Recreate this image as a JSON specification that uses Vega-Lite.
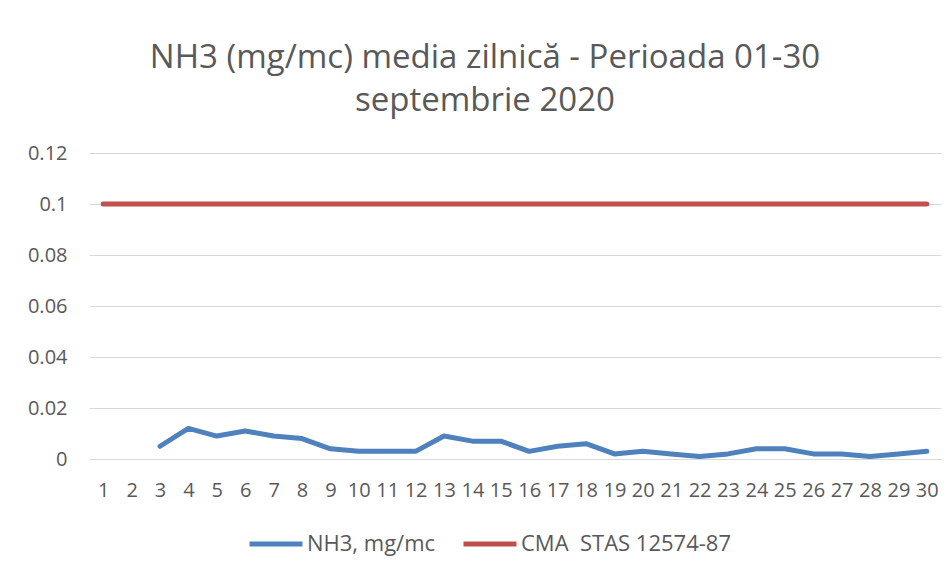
{
  "$schema": "https://vega.github.io/schema/vega-lite/v6.json",
  "width": 852,
  "height": 306,
  "autosize": {"type": "none"},
  "padding": {"left": 89, "top": 153, "right": 9, "bottom": 115},
  "background": "white",
  "title": {
    "text": ["NH3 (mg/mc) media zilnică - Perioada 01-30", "septembrie 2020"],
    "anchor": "middle",
    "frame": "group",
    "dx": -30,
    "offset": 25,
    "font": "Open Sans",
    "fontSize": 33,
    "fontWeight": "normal",
    "color": "#595959",
    "lineHeight": 43
  },
  "data": {
    "values": [
      {"day": 1, "series": "CMA\u00a0 STAS 12574-87", "value": 0.1},
      {"day": 2, "series": "CMA\u00a0 STAS 12574-87", "value": 0.1},
      {"day": 3, "series": "CMA\u00a0 STAS 12574-87", "value": 0.1},
      {"day": 4, "series": "CMA\u00a0 STAS 12574-87", "value": 0.1},
      {"day": 5, "series": "CMA\u00a0 STAS 12574-87", "value": 0.1},
      {"day": 6, "series": "CMA\u00a0 STAS 12574-87", "value": 0.1},
      {"day": 7, "series": "CMA\u00a0 STAS 12574-87", "value": 0.1},
      {"day": 8, "series": "CMA\u00a0 STAS 12574-87", "value": 0.1},
      {"day": 9, "series": "CMA\u00a0 STAS 12574-87", "value": 0.1},
      {"day": 10, "series": "CMA\u00a0 STAS 12574-87", "value": 0.1},
      {"day": 11, "series": "CMA\u00a0 STAS 12574-87", "value": 0.1},
      {"day": 12, "series": "CMA\u00a0 STAS 12574-87", "value": 0.1},
      {"day": 13, "series": "CMA\u00a0 STAS 12574-87", "value": 0.1},
      {"day": 14, "series": "CMA\u00a0 STAS 12574-87", "value": 0.1},
      {"day": 15, "series": "CMA\u00a0 STAS 12574-87", "value": 0.1},
      {"day": 16, "series": "CMA\u00a0 STAS 12574-87", "value": 0.1},
      {"day": 17, "series": "CMA\u00a0 STAS 12574-87", "value": 0.1},
      {"day": 18, "series": "CMA\u00a0 STAS 12574-87", "value": 0.1},
      {"day": 19, "series": "CMA\u00a0 STAS 12574-87", "value": 0.1},
      {"day": 20, "series": "CMA\u00a0 STAS 12574-87", "value": 0.1},
      {"day": 21, "series": "CMA\u00a0 STAS 12574-87", "value": 0.1},
      {"day": 22, "series": "CMA\u00a0 STAS 12574-87", "value": 0.1},
      {"day": 23, "series": "CMA\u00a0 STAS 12574-87", "value": 0.1},
      {"day": 24, "series": "CMA\u00a0 STAS 12574-87", "value": 0.1},
      {"day": 25, "series": "CMA\u00a0 STAS 12574-87", "value": 0.1},
      {"day": 26, "series": "CMA\u00a0 STAS 12574-87", "value": 0.1},
      {"day": 27, "series": "CMA\u00a0 STAS 12574-87", "value": 0.1},
      {"day": 28, "series": "CMA\u00a0 STAS 12574-87", "value": 0.1},
      {"day": 29, "series": "CMA\u00a0 STAS 12574-87", "value": 0.1},
      {"day": 30, "series": "CMA\u00a0 STAS 12574-87", "value": 0.1},
      {"day": 3, "series": "NH3, mg/mc", "value": 0.005},
      {"day": 4, "series": "NH3, mg/mc", "value": 0.012},
      {"day": 5, "series": "NH3, mg/mc", "value": 0.009},
      {"day": 6, "series": "NH3, mg/mc", "value": 0.011},
      {"day": 7, "series": "NH3, mg/mc", "value": 0.009},
      {"day": 8, "series": "NH3, mg/mc", "value": 0.008},
      {"day": 9, "series": "NH3, mg/mc", "value": 0.004},
      {"day": 10, "series": "NH3, mg/mc", "value": 0.003},
      {"day": 11, "series": "NH3, mg/mc", "value": 0.003},
      {"day": 12, "series": "NH3, mg/mc", "value": 0.003},
      {"day": 13, "series": "NH3, mg/mc", "value": 0.009},
      {"day": 14, "series": "NH3, mg/mc", "value": 0.007},
      {"day": 15, "series": "NH3, mg/mc", "value": 0.007},
      {"day": 16, "series": "NH3, mg/mc", "value": 0.003},
      {"day": 17, "series": "NH3, mg/mc", "value": 0.005},
      {"day": 18, "series": "NH3, mg/mc", "value": 0.006},
      {"day": 19, "series": "NH3, mg/mc", "value": 0.002},
      {"day": 20, "series": "NH3, mg/mc", "value": 0.003},
      {"day": 21, "series": "NH3, mg/mc", "value": 0.002},
      {"day": 22, "series": "NH3, mg/mc", "value": 0.001},
      {"day": 23, "series": "NH3, mg/mc", "value": 0.002},
      {"day": 24, "series": "NH3, mg/mc", "value": 0.004},
      {"day": 25, "series": "NH3, mg/mc", "value": 0.004},
      {"day": 26, "series": "NH3, mg/mc", "value": 0.002},
      {"day": 27, "series": "NH3, mg/mc", "value": 0.002},
      {"day": 28, "series": "NH3, mg/mc", "value": 0.001},
      {"day": 29, "series": "NH3, mg/mc", "value": 0.002},
      {"day": 30, "series": "NH3, mg/mc", "value": 0.003}
    ]
  },
  "mark": {"type": "line", "strokeWidth": 5, "strokeCap": "round", "strokeJoin": "round"},
  "encoding": {
    "x": {
      "field": "day",
      "type": "ordinal",
      "scale": {"type": "point", "padding": 0.5},
      "axis": {
        "title": null,
        "labelAngle": 0,
        "ticks": false,
        "domain": true,
        "domainColor": "#d9d9d9",
        "domainWidth": 1,
        "labelPadding": 21,
        "labelFont": "Open Sans",
        "labelFontSize": 20,
        "labelColor": "#595959",
        "grid": false
      }
    },
    "y": {
      "field": "value",
      "type": "quantitative",
      "scale": {"domain": [0, 0.12], "nice": false, "zero": true},
      "axis": {
        "title": null,
        "values": [0, 0.02, 0.04, 0.06, 0.08, 0.1, 0.12],
        "format": ".2~f",
        "domain": false,
        "ticks": false,
        "grid": true,
        "gridColor": "#d9d9d9",
        "gridWidth": 1,
        "labelPadding": 22,
        "labelFont": "Open Sans",
        "labelFontSize": 20,
        "labelColor": "#595959"
      }
    },
    "color": {
      "field": "series",
      "type": "nominal",
      "scale": {
        "domain": ["NH3, mg/mc", "CMA\u00a0 STAS 12574-87"],
        "range": ["#4F81BD", "#C0504D"]
      },
      "legend": {
        "title": null,
        "orient": "none",
        "direction": "horizontal",
        "legendX": 158,
        "legendY": 362,
        "symbolType": "stroke",
        "symbolSize": 2809,
        "symbolStrokeWidth": 5,
        "labelFont": "Open Sans",
        "labelFontSize": 22,
        "labelLimit": 400,
        "labelColor": "#595959",
        "labelOffset": 2,
        "columnPadding": 17
      }
    }
  },
  "config": {"view": {"stroke": null}}
}
